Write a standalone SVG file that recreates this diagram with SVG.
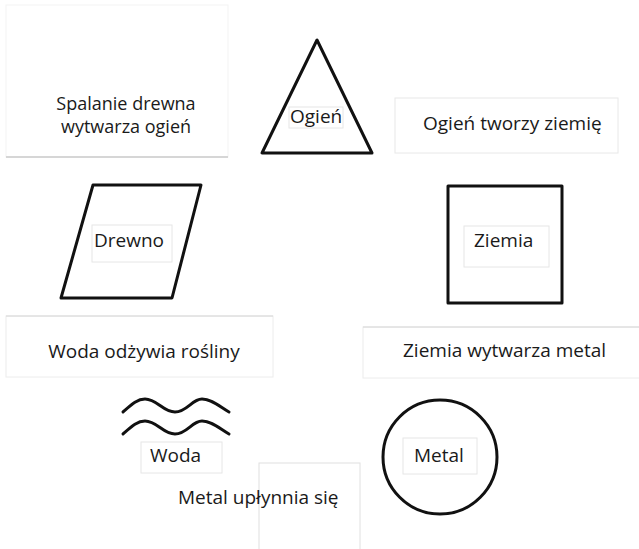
<svg xmlns="http://www.w3.org/2000/svg" width="639" height="549" viewBox="0 0 639 549">
<style>
.t{font-family:"Open Sans","Noto Sans","Liberation Sans",sans-serif;font-size:19px;font-weight:400;fill:#1a1a1a}
.s{font-size:18px}
.lb{fill:#fff;stroke:#e6e6e6;stroke-width:1}
.sh{fill:none;stroke:#111;stroke-width:3;stroke-linejoin:round;stroke-linecap:round}
.fb{fill:#fff;stroke:#f3f3f3;stroke-width:1}
.edge{stroke:#d6d6d6;stroke-width:2;fill:none}
</style>
<rect width="639" height="549" fill="#fff"/>
<g id="connectors">
<g id="c-spalanie">
<rect class="fb" x="6" y="5" width="222" height="152"/>
<line class="edge" x1="6" y1="157" x2="228" y2="157"/>
<text class="t s" x="126" y="110" text-anchor="middle">Spalanie drewna</text>
<text class="t s" x="126" y="133" text-anchor="middle">wytwarza ogień</text>
</g>
<g id="c-ogien-tworzy">
<rect class="fb" x="395" y="98" width="223" height="55" style="stroke:#e8e8e8"/>
<text class="t" x="423" y="130">Ogień tworzy ziemię</text>
</g>
<g id="c-woda-odzywia">
<rect class="fb" x="6" y="316" width="267" height="61" style="stroke:#ececec"/>
<line class="edge" x1="6" y1="316" x2="273" y2="316" style="stroke-width:1"/>
<text class="t" x="144" y="358" text-anchor="middle">Woda odżywia rośliny</text>
</g>
<g id="c-ziemia-wytwarza">
<rect class="fb" x="363" y="327" width="280" height="51" style="stroke:#ececec"/>
<line class="edge" x1="363" y1="327" x2="639" y2="327" style="stroke-width:1"/>
<text class="t" x="403" y="357">Ziemia wytwarza metal</text>
</g>
<g id="c-metal-uplynnia">
<rect class="fb" x="259" y="463" width="101" height="90" style="stroke:#e0e0e0"/>
<text class="t" x="178" y="504">Metal upłynnia się</text>
</g>
</g>
<g id="ogien">
<polygon class="sh" points="317,40 262,153 372,153"/>
<rect class="lb" x="289" y="107" width="54" height="21"/>
<text class="t" x="290" y="123">Ogień</text>
</g>
<g id="drewno">
<polygon class="sh" points="93,185 201,185 172,298 61,298"/>
<rect class="lb" x="92" y="225" width="80" height="37"/>
<text class="t" x="94" y="247">Drewno</text>
</g>
<g id="ziemia">
<rect class="sh" x="448" y="186" width="114" height="117"/>
<rect class="lb" x="464" y="226" width="85" height="41"/>
<text class="t" x="474" y="247">Ziemia</text>
</g>
<g id="woda">
<path class="sh" d="M123,412 C131,405 137,399 145,399 C157,399 163,412 175,412 C187,412 192,399 202,399 C212,399 220,407 229,412"/>
<path class="sh" d="M123,434 C131,427 137,421 145,421 C157,421 163,434 175,434 C187,434 192,421 202,421 C212,421 220,429 229,434"/>
<rect class="lb" x="141" y="442" width="81" height="31"/>
<text class="t" x="150" y="462">Woda</text>
</g>
<g id="metal">
<circle class="sh" cx="440" cy="457" r="57"/>
<rect class="lb" x="403" y="438" width="74" height="36"/>
<text class="t" x="414" y="462">Metal</text>
</g>
</svg>
